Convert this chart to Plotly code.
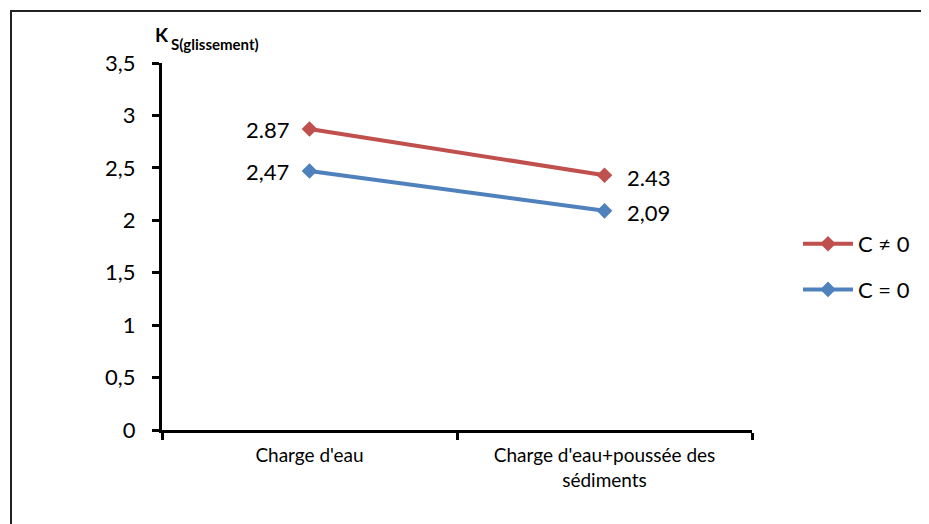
import plotly.graph_objects as go

categories = ["Charge d'eau", "Charge d'eau+poussée des<br>sédiments"]
series_names = ["C ≠ 0", "C = 0"]
values_c_nonzero = [2.87, 2.43]
values_c_zero = [2.47, 2.09]
labels_c_nonzero = ["2.87", "2.43"]
labels_c_zero = ["2,47", "2,09"]
ytick_vals = [0, 0.5, 1, 1.5, 2, 2.5, 3, 3.5]
ytick_text = ["0", "0,5", "1", "1,5", "2", "2,5", "3", "3,5"]

OFF = 8  # default page body margin
W, H = 929 - OFF, 524 - OFF
L, T = 162 - OFF, 63 - OFF
R = W - (752 - OFF)
B = H - (430 - OFF)
pw, ph = W - L - R, H - T - B
FONT = "Lato, 'Open Sans', sans-serif"


def xp(px):
    return (px - OFF - L) / pw


def yp(py):
    return 1 - (py - OFF - T) / ph


fig = go.Figure()
for name, vals, color, grp in [
    (series_names[0], values_c_nonzero, "#C0504D", "a"),
    (series_names[1], values_c_zero, "#4F81BD", "b"),
]:
    fig.add_trace(go.Scatter(
        x=categories, y=vals, name=name, legendgroup=grp,
        mode="lines+markers",
        line=dict(color=color, width=4),
        marker=dict(symbol="diamond", size=12, color=color),
    ))

for labels, vals in [(labels_c_nonzero, values_c_nonzero), (labels_c_zero, values_c_zero)]:
    for i, (lab, v) in enumerate(zip(labels, vals)):
        fig.add_annotation(
            x=categories[i], y=v, text=lab, showarrow=False,
            xanchor="right" if i == 0 else "left",
            xshift=-19 if i == 0 else 20, yshift=0 if i == 0 else -2,
            font=dict(size=22, color="black", family=FONT),
        )

fig.add_shape(type="rect", xref="paper", yref="paper",
              x0=xp(11), x1=xp(960), y0=yp(11), y1=yp(560),
              line=dict(color="#222", width=2), layer="below")

fig.add_annotation(xref="paper", yref="paper", x=xp(153), y=yp(35),
                   xanchor="left", yanchor="middle", showarrow=False,
                   text="<b>K</b>", font=dict(size=19, color="black", family=FONT))
fig.add_annotation(xref="paper", yref="paper", x=xp(169), y=yp(44),
                   xanchor="left", yanchor="middle", showarrow=False,
                   text="<b>S(glissement)</b>", font=dict(size=15, color="black", family=FONT))

fig.update_layout(
    width=W, height=H,
    margin=dict(l=L, r=R, t=T, b=B),
    paper_bgcolor="white", plot_bgcolor="white",
    font=dict(family=FONT, color="black"),
    showlegend=True,
    legend=dict(x=xp(798), y=yp(223), xanchor="left", yanchor="top",
                font=dict(size=22, color="black", family=FONT),
                tracegroupgap=14, itemwidth=50,
                bgcolor="rgba(0,0,0,0)"),
    xaxis=dict(type="category", range=[-0.5, 1.5], showline=True, linecolor="black",
               linewidth=3, ticks="outside", tickson="boundaries", ticklen=7,
               tickwidth=3, tickcolor="black", showgrid=False, zeroline=False,
               ticklabelstandoff=6,
               tickfont=dict(size=19, color="black", family=FONT)),
    yaxis=dict(range=[0, 3.5], tickvals=ytick_vals, ticktext=ytick_text,
               showline=True, linecolor="black", linewidth=3, ticks="outside",
               ticklen=7, tickwidth=3, tickcolor="black", showgrid=False,
               zeroline=False, ticklabelstandoff=12,
               tickfont=dict(size=22, color="black", family=FONT)),
)

fig.write_html("out.html")
